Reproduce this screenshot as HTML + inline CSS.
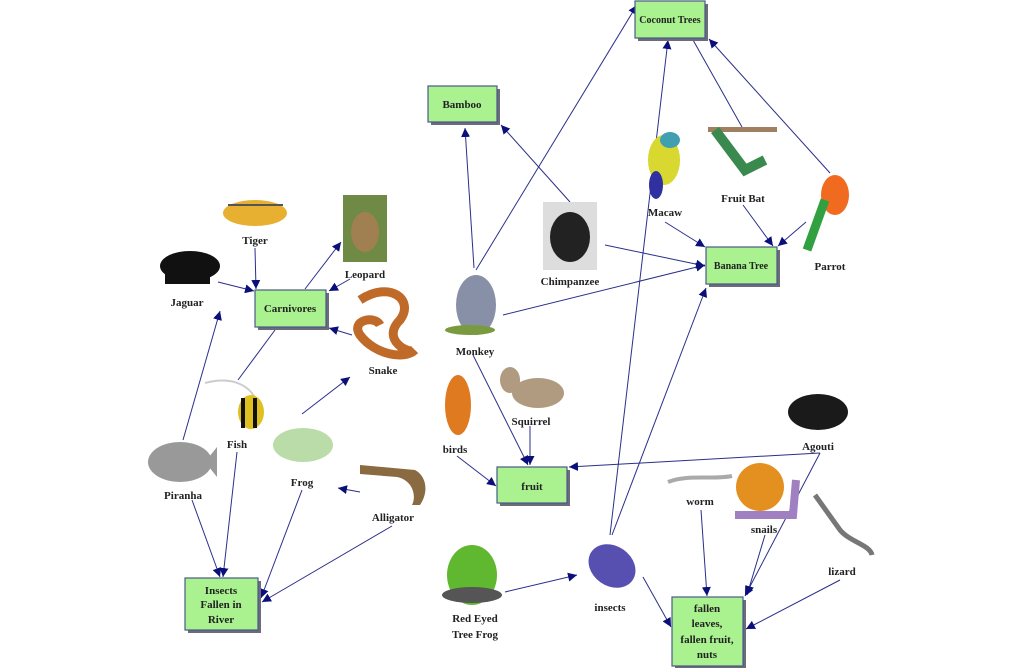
<!DOCTYPE html>
<html><head><meta charset="utf-8"><style>
html,body{margin:0;padding:0;background:#fff;}
svg{display:block}
text{font-family:"Liberation Serif",serif;font-weight:bold;font-size:11px;fill:#222;text-anchor:middle}
.b{fill:#a9f28f;stroke:#4a5a8a;stroke-width:1.2}
.s{fill:#6b6b7a}
.l{stroke:#2a2f8a;stroke-width:1;fill:none}
</style></head><body>
<svg width="1024" height="668" viewBox="0 0 1024 668" xmlns="http://www.w3.org/2000/svg">
<defs><marker id="a" viewBox="0 0 10 10" refX="10" refY="5" markerWidth="9" markerHeight="9" orient="auto" markerUnits="userSpaceOnUse"><path d="M0,0L10,5L0,10z" fill="#0a0f7a"/></marker></defs>

<!-- connectors -->
<g class="l">
<line x1="255" y1="248" x2="256" y2="289" marker-end="url(#a)"/>
<line x1="218" y1="282" x2="254" y2="291" marker-end="url(#a)"/>
<line x1="305" y1="289" x2="341" y2="242" marker-end="url(#a)"/>
<line x1="350" y1="279" x2="329" y2="291" marker-end="url(#a)"/>
<line x1="352" y1="335" x2="329" y2="328" marker-end="url(#a)"/>
<line x1="275" y1="330" x2="238" y2="380"/>
<line x1="183" y1="440" x2="220" y2="311" marker-end="url(#a)"/>
<line x1="302" y1="414" x2="350" y2="377" marker-end="url(#a)"/>
<line x1="360" y1="492" x2="338" y2="488" marker-end="url(#a)"/>
<line x1="192" y1="500" x2="220" y2="577" marker-end="url(#a)"/>
<line x1="237" y1="452" x2="223" y2="577" marker-end="url(#a)"/>
<line x1="302" y1="490" x2="261" y2="598" marker-end="url(#a)"/>
<line x1="392" y1="526" x2="262" y2="602" marker-end="url(#a)"/>
<line x1="474" y1="268" x2="465" y2="128" marker-end="url(#a)"/>
<line x1="570" y1="202" x2="501" y2="125" marker-end="url(#a)"/>
<line x1="476" y1="270" x2="637" y2="5" marker-end="url(#a)"/>
<line x1="610" y1="535" x2="668" y2="40" marker-end="url(#a)"/>
<line x1="612" y1="535" x2="706" y2="288" marker-end="url(#a)"/>
<line x1="693" y1="40" x2="742" y2="127"/>
<line x1="830" y1="173" x2="709" y2="39" marker-end="url(#a)"/>
<line x1="665" y1="222" x2="705" y2="247" marker-end="url(#a)"/>
<line x1="743" y1="205" x2="773" y2="246" marker-end="url(#a)"/>
<line x1="806" y1="222" x2="778" y2="246" marker-end="url(#a)"/>
<line x1="605" y1="245" x2="705" y2="266" marker-end="url(#a)"/>
<line x1="503" y1="315" x2="705" y2="265" marker-end="url(#a)"/>
<line x1="473" y1="355" x2="528" y2="465" marker-end="url(#a)"/>
<line x1="530" y1="426" x2="530" y2="465" marker-end="url(#a)"/>
<line x1="457" y1="456" x2="496" y2="486" marker-end="url(#a)"/>
<line x1="820" y1="453" x2="569" y2="467" marker-end="url(#a)"/>
<line x1="820" y1="453" x2="745" y2="596" marker-end="url(#a)"/>
<line x1="505" y1="592" x2="577" y2="575" marker-end="url(#a)"/>
<line x1="643" y1="577" x2="671" y2="627" marker-end="url(#a)"/>
<line x1="701" y1="510" x2="707" y2="596" marker-end="url(#a)"/>
<line x1="765" y1="535" x2="747" y2="595" marker-end="url(#a)"/>
<line x1="840" y1="580" x2="746" y2="629" marker-end="url(#a)"/>
</g>

<!-- boxes -->
<g>
<rect class="s" x="638" y="4" width="70" height="37"/><rect class="b" x="635" y="1" width="70" height="37"/><text x="670" y="23" style="font-size:10px">Coconut Trees</text>
<rect class="s" x="431" y="89" width="69" height="36"/><rect class="b" x="428" y="86" width="69" height="36"/><text x="462" y="108">Bamboo</text>
<rect class="s" x="709" y="250" width="71" height="37"/><rect class="b" x="706" y="247" width="71" height="37"/><text x="741" y="269" style="font-size:10px">Banana Tree</text>
<rect class="s" x="258" y="293" width="71" height="37"/><rect class="b" x="255" y="290" width="71" height="37"/><text x="290" y="312">Carnivores</text>
<rect class="s" x="500" y="470" width="70" height="36"/><rect class="b" x="497" y="467" width="70" height="36"/><text x="532" y="490">fruit</text>
<rect class="s" x="188" y="581" width="73" height="52"/><rect class="b" x="185" y="578" width="73" height="52"/><text x="221" y="594">Insects</text><text x="221" y="608">Fallen in</text><text x="221" y="623">River</text>
<rect class="s" x="675" y="600" width="71" height="69"/><rect class="b" x="672" y="597" width="71" height="69"/><text x="707" y="612">fallen</text><text x="707" y="627">leaves,</text><text x="707" y="643">fallen fruit,</text><text x="707" y="658">nuts</text>
</g>

<!-- animal approximations -->
<g>
<ellipse cx="255" cy="213" rx="32" ry="13" fill="#e8b030"/><path d="M228,205l55,0" stroke="#555" stroke-width="2"/>
<rect x="343" y="195" width="44" height="67" fill="#6e8a45"/><ellipse cx="365" cy="232" rx="14" ry="20" fill="#a08050"/>
<ellipse cx="190" cy="266" rx="30" ry="15" fill="#111"/><rect x="165" y="270" width="45" height="14" fill="#111"/>
<path d="M360,300c30,-20 55,0 40,20c-20,20 10,35 15,30c-10,10 -40,5 -55,-15c-10,-15 15,-20 20,-10" stroke="#c06a2a" stroke-width="9" fill="none"/>
<path d="M205,383c30,-8 45,5 50,15" stroke="#ccc" stroke-width="2" fill="none"/><ellipse cx="251" cy="412" rx="13" ry="17" fill="#e0c020"/><path d="M243,398l0,30M255,398l0,30" stroke="#111" stroke-width="4"/>
<ellipse cx="303" cy="445" rx="30" ry="17" fill="#b9dca8"/>
<ellipse cx="180" cy="462" rx="32" ry="20" fill="#999"/><path d="M205,462l12,-15l0,30z" fill="#999"/>
<path d="M360,465l55,5c10,5 15,20 5,35l-8,0c5,-10 0,-25 -15,-28l-37,-3z" fill="#8a6a40"/>
<ellipse cx="476" cy="305" rx="20" ry="30" fill="#8890a8"/><ellipse cx="470" cy="330" rx="25" ry="5" fill="#7a9a40"/>
<rect x="543" y="202" width="54" height="68" fill="#ddd"/><ellipse cx="570" cy="237" rx="20" ry="25" fill="#222"/>
<ellipse cx="664" cy="160" rx="16" ry="25" fill="#d8d830"/><ellipse cx="656" cy="185" rx="7" ry="14" fill="#3030a0"/><ellipse cx="670" cy="140" rx="10" ry="8" fill="#40a0b0"/>
<rect x="708" y="127" width="69" height="5" fill="#a08060"/><path d="M715,130l30,40l20,-10" stroke="#3a8a50" stroke-width="10" fill="none"/>
<ellipse cx="835" cy="195" rx="14" ry="20" fill="#f06a20"/><path d="M825,200l-18,50" stroke="#30a040" stroke-width="9"/>
<ellipse cx="458" cy="405" rx="13" ry="30" fill="#e07a20"/>
<ellipse cx="538" cy="393" rx="26" ry="15" fill="#b09a80"/><ellipse cx="510" cy="380" rx="10" ry="13" fill="#b09a80"/>
<ellipse cx="818" cy="412" rx="30" ry="18" fill="#1a1a1a"/>
<path d="M668,482c20,-8 45,-2 64,-6" stroke="#aaa" stroke-width="4" fill="none"/>
<circle cx="760" cy="487" r="24" fill="#e49020"/><path d="M735,515l58,0l3,-35" stroke="#a080c0" stroke-width="8" fill="none"/>
<path d="M815,495l25,35c10,12 30,15 32,25" stroke="#777" stroke-width="5" fill="none"/>
<ellipse cx="472" cy="575" rx="25" ry="30" fill="#60b830"/><ellipse cx="472" cy="595" rx="30" ry="8" fill="#555"/>
<ellipse cx="612" cy="566" rx="25" ry="20" fill="#5850b0" transform="rotate(35 612 566)"/>
</g>

<!-- labels -->
<g>
<text x="255" y="244">Tiger</text>
<text x="365" y="278">Leopard</text>
<text x="187" y="306">Jaguar</text>
<text x="383" y="374">Snake</text>
<text x="237" y="448">Fish</text>
<text x="302" y="486">Frog</text>
<text x="183" y="499">Piranha</text>
<text x="393" y="521">Alligator</text>
<text x="475" y="355">Monkey</text>
<text x="570" y="285">Chimpanzee</text>
<text x="665" y="216">Macaw</text>
<text x="743" y="202">Fruit Bat</text>
<text x="830" y="270">Parrot</text>
<text x="455" y="453">birds</text>
<text x="531" y="425">Squirrel</text>
<text x="818" y="450">Agouti</text>
<text x="700" y="505">worm</text>
<text x="764" y="533">snails</text>
<text x="842" y="575">lizard</text>
<text x="475" y="622">Red Eyed</text>
<text x="475" y="638">Tree Frog</text>
<text x="610" y="611">insects</text>
</g>
</svg>
</body></html>
